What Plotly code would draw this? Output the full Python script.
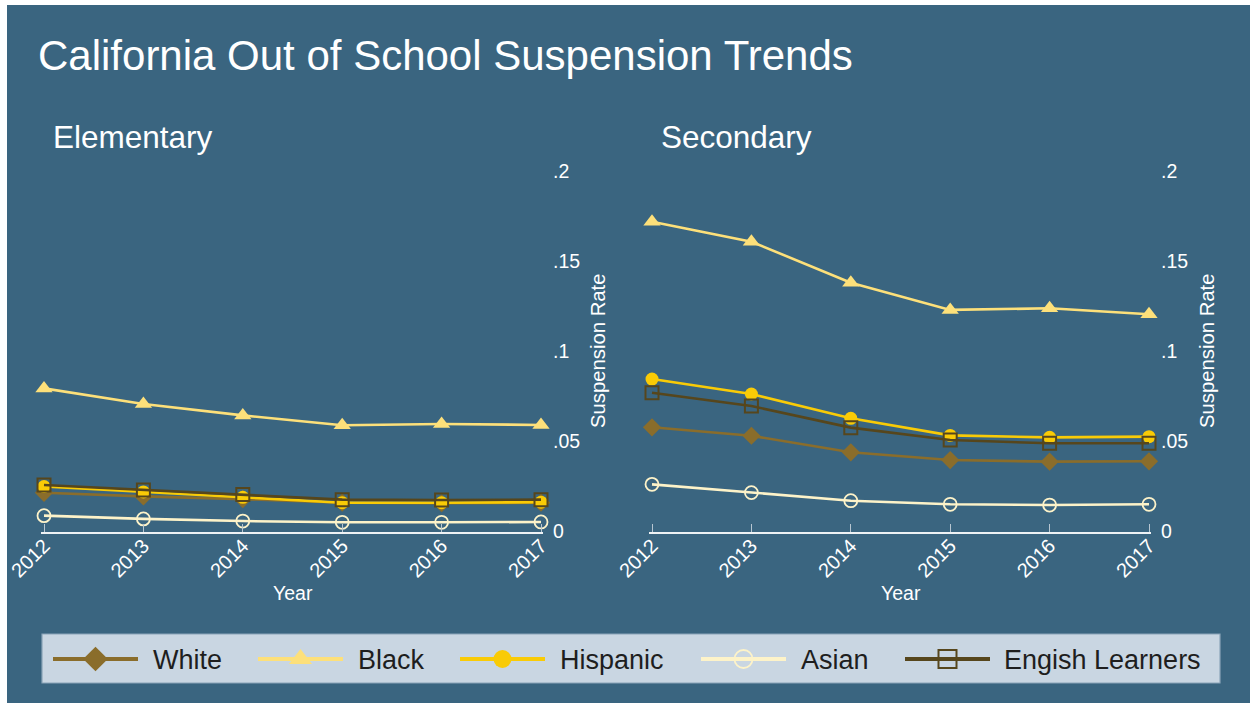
import plotly.graph_objects as go

# ---- data -------------------------------------------------------------
years = [2012, 2013, 2014, 2015, 2016, 2017]

elem_white    = [0.0215, 0.0195, 0.0180, 0.0160, 0.0157, 0.0160]
elem_black    = [0.0795, 0.0708, 0.0645, 0.0590, 0.0597, 0.0592]
elem_hispanic = [0.0250, 0.0220, 0.0190, 0.0160, 0.0160, 0.0163]
elem_asian    = [0.0088, 0.0070, 0.0058, 0.0051, 0.0051, 0.0053]
elem_el       = [0.0258, 0.0230, 0.0205, 0.0177, 0.0175, 0.0177]

sec_white    = [0.0579, 0.0532, 0.0440, 0.0397, 0.0388, 0.0390]
sec_black    = [0.1721, 0.1610, 0.1382, 0.1231, 0.1240, 0.1207]
sec_hispanic = [0.0847, 0.0764, 0.0629, 0.0534, 0.0523, 0.0527]
sec_asian    = [0.0262, 0.0216, 0.0171, 0.0151, 0.0147, 0.0151]
sec_el       = [0.0771, 0.0697, 0.0577, 0.0508, 0.0490, 0.0490]

group_names = ["White", "Black", "Hispanic", "Asian", "Engish Learners"]
y_tickvals = [0, 0.05, 0.1, 0.15, 0.2]
y_ticktext = ["0", ".05", ".1", ".15", ".2"]

# ---- styling ------------------------------------------------------------
W, H = 1250, 703
BG = "#3a6580"
FONT = "Liberation Sans, Arial, sans-serif"

styles = {
    "White":           dict(color="#8a6d2b", symbol="diamond",       size=14, mline=0,   width=2.6),
    "Black":           dict(color="#fde07a", symbol="triangle-up",   size=15, mline=0,   width=2.6),
    "Hispanic":        dict(color="#f9cb06", symbol="circle",        size=13, mline=0,   width=2.6),
    "Asian":           dict(color="#fdf3c9", symbol="circle-open",   size=13, mline=1.8, width=2.6),
    "Engish Learners": dict(color="#56461c", symbol="square-open",   size=13, mline=2,   width=2.6),
}

panels = [
    ("x", "y", [elem_white, elem_black, elem_hispanic, elem_asian, elem_el]),
    ("x2", "y2", [sec_white, sec_black, sec_hispanic, sec_asian, sec_el]),
]

fig = go.Figure()

for xa, ya, series in panels:
    for name, vals in zip(group_names, series):
        s = styles[name]
        fig.add_trace(go.Scatter(
            x=years, y=vals, xaxis=xa, yaxis=ya, mode="lines+markers", name=name,
            showlegend=False, cliponaxis=False,
            line=dict(color=s["color"], width=s["width"]),
            marker=dict(symbol=s["symbol"], size=s["size"], color=s["color"],
                        line=dict(color=s["color"], width=s["mline"])),
        ))

# ---- legend drawn on a full-page pixel axis --------------------------------
leg_box = (42, 634, 1220, 683)
leg_y = 659
leg_line_x0 = [53, 258, 460, 701, 905]
leg_line_len = 85
leg_text_x = [153, 358, 560, 801, 1004]

for name, x0, tx in zip(group_names, leg_line_x0, leg_text_x):
    s = styles[name]
    fig.add_trace(go.Scatter(
        x=[x0, x0 + leg_line_len], y=[leg_y, leg_y], xaxis="x3", yaxis="y3",
        mode="lines", showlegend=False, hoverinfo="skip",
        line=dict(color=s["color"], width=4),
    ))
    fig.add_trace(go.Scatter(
        x=[x0 + leg_line_len / 2], y=[leg_y], xaxis="x3", yaxis="y3",
        mode="markers", showlegend=False, hoverinfo="skip", cliponaxis=False,
        marker=dict(symbol=s["symbol"], size=s["size"] + 5, color=s["color"],
                    line=dict(color=s["color"], width=s["mline"])),
    ))

# ---- axes -------------------------------------------------------------------
def px_x(p):
    return p / W

def px_y(p):
    return 1 - p / H

x_pad_lo = 3 / 99.4
x_pad_hi = 2 / 99.4
common_x = dict(
    range=[2012 - x_pad_lo, 2017 + x_pad_hi], tickvals=years, ticktext=[str(y) for y in years],
    tickangle=-45, ticks="inside", ticklen=8, tickwidth=1.3, tickcolor="#b7c6d1",
    showline=True, linecolor="#eef2f5", linewidth=1.5, showgrid=False, zeroline=False,
    ticklabelstandoff=-7, ticklabelshift=0,
    tickfont=dict(family=FONT, size=20, color="white"), fixedrange=True,
)
common_y = dict(
    range=[0, 0.2], tickvals=y_tickvals, ticktext=y_ticktext, side="right",
    showline=False, showgrid=False, zeroline=False, ticks="",
    ticklabelstandoff=9,
    tickfont=dict(family=FONT, size=19.5, color="white"), fixedrange=True,
)
y_dom = [px_y(531.5), px_y(171.5)]

fig.update_layout(
    width=W, height=H,
    margin=dict(l=0, r=0, t=0, b=0, autoexpand=False),
    paper_bgcolor=BG, plot_bgcolor="rgba(0,0,0,0)",
    xaxis=dict(domain=[px_x(41), px_x(543)], anchor="y", **common_x),
    yaxis=dict(domain=y_dom, anchor="x", **common_y),
    xaxis2=dict(domain=[px_x(649), px_x(1151)], anchor="y2", **common_x),
    yaxis2=dict(domain=y_dom, anchor="x2", **common_y),
    xaxis3=dict(domain=[0, 1], range=[0, W], visible=False, anchor="y3", fixedrange=True),
    yaxis3=dict(domain=[0, 1], range=[H, 0], visible=False, anchor="x3", fixedrange=True),
    hovermode=False,
)

# ---- frame and legend box -------------------------------------------------------
fig.add_shape(type="rect", xref="paper", yref="paper", x0=0, x1=px_x(7), y0=0, y1=1,
              fillcolor="white", line=dict(width=0), layer="below")
fig.add_shape(type="rect", xref="paper", yref="paper", x0=0, x1=1, y0=px_y(5), y1=1,
              fillcolor="white", line=dict(width=0), layer="below")
fig.add_shape(type="rect", xref="paper", yref="paper",
              x0=px_x(leg_box[0]), x1=px_x(leg_box[2]), y0=px_y(leg_box[3]), y1=px_y(leg_box[1]),
              fillcolor="#c9d6e2", line=dict(color="#8aa4b8", width=1.2), layer="below")

# ---- text -------------------------------------------------------------------------
def note(text, x, y, size, color="white", xanchor="left", angle=0):
    fig.add_annotation(text=text, x=px_x(x), y=px_y(y), xref="paper", yref="paper",
                       xanchor=xanchor, yanchor="middle", showarrow=False, textangle=angle,
                       font=dict(family=FONT, size=size, color=color))

note("California Out of School Suspension Trends", 36, 55, 42)
note("Elementary", 51, 137, 31.5)
note("Secondary", 659, 137, 31.5)
note("Suspension Rate", 598, 351, 20.3, xanchor="center", angle=-90)
note("Suspension Rate", 1207, 351, 20.3, xanchor="center", angle=-90)
note("Year", 293, 593, 19.5, xanchor="center")
note("Year", 901, 593, 19.5, xanchor="center")
for name, tx in zip(group_names, leg_text_x):
    note(name, tx - 2, leg_y + 1, 27, color="#1e1e1e")

fig.write_html("out.html")
